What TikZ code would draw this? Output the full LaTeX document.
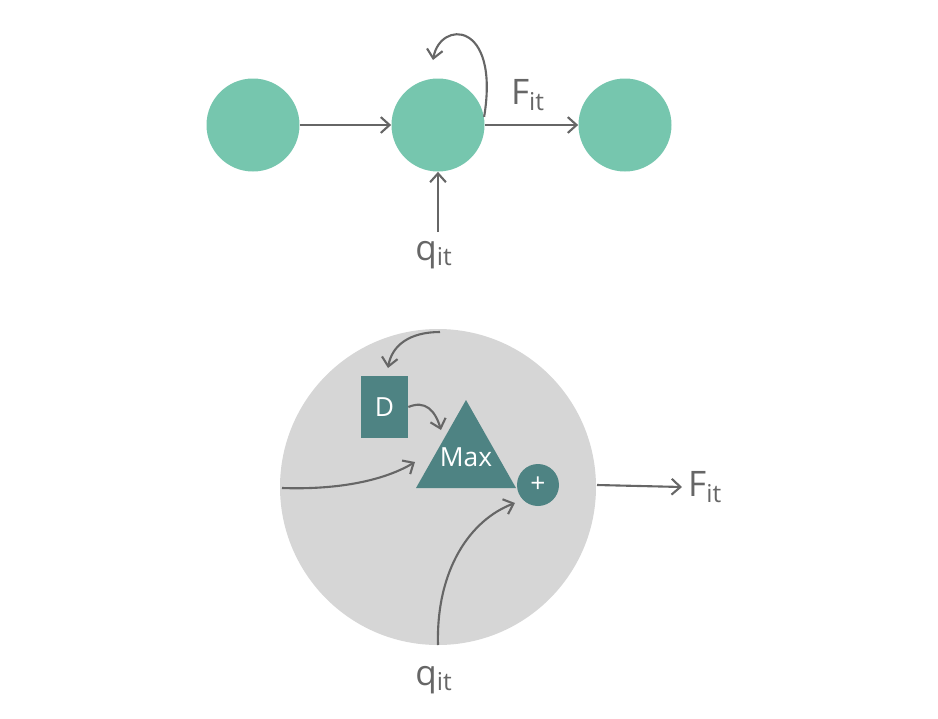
\documentclass[tikz,border=0pt]{standalone}
\usepackage{fontspec}
\setmainfont{Open Sans}
\usetikzlibrary{arrows.meta}
\definecolor{mint}{HTML}{76C6AE}
\definecolor{teal}{HTML}{4E8383}
\definecolor{lgray}{HTML}{D6D6D6}
\definecolor{ln}{HTML}{666666}
\begin{document}
\begin{tikzpicture}[x=0.02cm,y=-0.02cm,
  conn/.style={draw=ln,line width=1.2pt,-{Straight Barb[length=5pt,width=9pt]}},
  lbl/.style={text=ln,font=\fontsize{20}{22}\selectfont},
  ball/.style={circle,fill=mint,minimum size=93*0.02cm,inner sep=0}]
\useasboundingbox (0,0) rectangle (938,718);
\node[ball] (a) at (253,125) {};
\node[ball] (b) at (438,125) {};
\node[ball] (c) at (625,125) {};
\draw[conn] (a) -- (b);
\draw[conn] (b) -- (c);
\draw[conn] (b.10) .. controls (500,20) and (440,20) .. (433,60);
\node[lbl] (f1) at (528,95) {F\textsubscript{it}};
\node[lbl] (q1) at (434,255) {q\textsubscript{it}};
\coordinate (q1s) at (438,232);
\draw[conn] (q1s) -- (b);
\node[circle,fill=lgray,minimum size=316*0.02cm,inner sep=0] (big) at (438,487) {};
\node[fill=teal,minimum width=47*0.02cm,minimum height=62*0.02cm,inner sep=0,text=white,font=\fontsize{15}{17}\selectfont] (d) at (384.5,407) {D};
\fill[teal] (466,400) -- (416,488) -- (516,488) -- cycle;
\node[text=white,font=\fontsize{15}{17}\selectfont] (max) at (466,457) {Max};
\coordinate (maxin) at (441,430);
\coordinate (maxl) at (415,462);
\node[circle,fill=teal,minimum size=42*0.02cm,inner sep=0,text=white,font=\fontsize{15}{17}\selectfont] (p) at (538,485) {+};
\coordinate (top) at (440,332);
\coordinate (dtop) at (388,368);
\draw[conn] (top) .. controls (410,332) and (392,345) .. (dtop);
\draw[conn] (d.east) .. controls (425,400) and (435,410) .. (maxin);
\coordinate (left) at (282,488);
\draw[conn] (left) .. controls (340,490) and (385,480) .. (maxl);
\coordinate (bot) at (438,645);
\draw[conn] (bot) .. controls (436,570) and (470,520) .. (515,503);
\coordinate (rs) at (597,485);
\node[lbl,anchor=west] (f2) at (682,487) {F\textsubscript{it}};
\draw[conn] (rs) -- (f2.west);
\node[lbl] (q2) at (434,680) {q\textsubscript{it}};
\end{tikzpicture}
\end{document}
